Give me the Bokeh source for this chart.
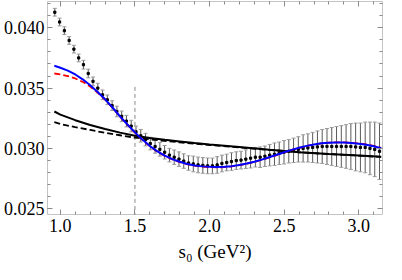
from bokeh.plotting import figure
from bokeh.models import (ColumnDataSource, Whisker, TeeHead, LinearAxis, SingleIntervalTicker,
                          PrintfTickFormatter, CustomJSTickFormatter)
from bokeh.embed import file_html
from bokeh.resources import INLINE

# ---- data ----
S0_POINTS = [0.963, 0.995, 1.027, 1.059, 1.091, 1.123, 1.155, 1.187, 1.219, 1.251, 1.283, 1.315,
             1.347, 1.379, 1.411, 1.443, 1.475, 1.507, 1.539, 1.571, 1.603, 1.635, 1.667, 1.699,
             1.731, 1.763, 1.795, 1.827, 1.859, 1.891, 1.923, 1.955, 1.987, 2.019, 2.051, 2.083,
             2.115, 2.147, 2.179, 2.211, 2.243, 2.275, 2.307, 2.339, 2.371, 2.403, 2.435, 2.467,
             2.499, 2.531, 2.563, 2.595, 2.627, 2.659, 2.691, 2.723, 2.755, 2.787, 2.819, 2.851,
             2.883, 2.915, 2.947, 2.979, 3.011, 3.043, 3.075, 3.107, 3.139]
VAL_POINTS = [0.04129, 0.04048, 0.03976, 0.03895, 0.03823, 0.03750, 0.03694, 0.03621, 0.03556,
              0.03500, 0.03444, 0.03403, 0.03355, 0.03306, 0.03266, 0.03226, 0.03185, 0.03137,
              0.03105, 0.03073, 0.03040, 0.03016, 0.02992, 0.02968, 0.02944, 0.02927, 0.02911,
              0.02895, 0.02879, 0.02871, 0.02863, 0.02859, 0.02855, 0.02855, 0.02863, 0.02875,
              0.02883, 0.02891, 0.02899, 0.02903, 0.02911, 0.02919, 0.02927, 0.02927, 0.02935,
              0.02944, 0.02952, 0.02960, 0.02968, 0.02976, 0.02984, 0.02992, 0.03000, 0.03004,
              0.03008, 0.03012, 0.03016, 0.03016, 0.03016, 0.03016, 0.03016, 0.03016, 0.03016,
              0.03012, 0.03008, 0.03008, 0.03000, 0.02992, 0.02976]
ERR_POINTS = [0.00032, 0.00032, 0.00032, 0.00032, 0.00032, 0.00032, 0.00036, 0.00036, 0.00036,
              0.00040, 0.00040, 0.00040, 0.00040, 0.00044, 0.00044, 0.00048, 0.00048, 0.00048,
              0.00052, 0.00052, 0.00052, 0.00056, 0.00056, 0.00056, 0.00056, 0.00060, 0.00060,
              0.00060, 0.00060, 0.00065, 0.00065, 0.00065, 0.00065, 0.00065, 0.00069, 0.00069,
              0.00069, 0.00073, 0.00073, 0.00073, 0.00077, 0.00081, 0.00081, 0.00085, 0.00085,
              0.00089, 0.00093, 0.00093, 0.00097, 0.00097, 0.00101, 0.00105, 0.00113, 0.00117,
              0.00125, 0.00133, 0.00141, 0.00149, 0.00157, 0.00165, 0.00173, 0.00181, 0.00190,
              0.00198, 0.00202, 0.00210, 0.00218, 0.00226, 0.00234]

S0_FIT = [0.96, 1.0, 1.05, 1.1, 1.15, 1.2, 1.25, 1.3, 1.35, 1.4, 1.45, 1.5, 1.55, 1.6, 1.65, 1.7,
          1.75, 1.8, 1.85, 1.9, 1.95, 2.0, 2.05, 2.1, 2.15, 2.2, 2.25, 2.3, 2.35, 2.4, 2.45, 2.5,
          2.55, 2.6, 2.65, 2.7, 2.75, 2.8, 2.85, 2.9, 2.95, 3.0, 3.05, 3.1, 3.15]
BLUE_FIT = [0.03685, 0.03669, 0.03645, 0.03613, 0.03573, 0.03524, 0.03468, 0.03407, 0.03339,
            0.03266, 0.03198, 0.03133, 0.03073, 0.03020, 0.02975, 0.02940, 0.02911, 0.02889,
            0.02871, 0.02859, 0.02851, 0.02847, 0.02845, 0.02847, 0.02853, 0.02863, 0.02875,
            0.02889, 0.02907, 0.02927, 0.02947, 0.02968, 0.02988, 0.03006, 0.03021, 0.03033,
            0.03042, 0.03047, 0.03049, 0.03048, 0.03045, 0.03039, 0.03030, 0.03018, 0.03002]
RED_FIT = [0.03621, 0.03614, 0.03600, 0.03580, 0.03552, 0.03513, 0.03463, 0.03404, 0.03337,
           0.03264, 0.03196, 0.03131, 0.03071, 0.03018, 0.02973, 0.02938, 0.02909, 0.02887,
           0.02869, 0.02857, 0.02849, 0.02845, 0.02843, 0.02845, 0.02851, 0.02861, 0.02873,
           0.02887, 0.02905, 0.02925, 0.02945, 0.02966, 0.02987, 0.03005, 0.03020, 0.03033,
           0.03042, 0.03048, 0.03050, 0.03050, 0.03047, 0.03041, 0.03033, 0.03021, 0.03005]

S0_BLACK = [0.96, 1.0, 1.1, 1.2, 1.3, 1.4, 1.5, 1.6, 1.7, 1.8, 1.9, 2.0, 2.2, 2.4, 2.6, 2.8, 3.0, 3.15]
BLACK_SOLID = [0.03306, 0.03280, 0.03234, 0.03194, 0.03161, 0.03131, 0.03105, 0.03087, 0.03071,
               0.03058, 0.03045, 0.03033, 0.03011, 0.02989, 0.02969, 0.02954, 0.02941, 0.02930]
BLACK_DASHED = [0.03218, 0.03202, 0.03177, 0.03153, 0.03129, 0.03109, 0.03089, 0.03075, 0.03062,
                0.03050, 0.03039, 0.03028, 0.03008, 0.02988, 0.02968, 0.02953, 0.02940, 0.02929]

VLINE_X = 1.5
VLINE_TOP = 0.0351

X_MIN, X_MAX = 0.914, 3.159
Y_MIN, Y_MAX = 0.02452, 0.04218

X_TITLE = "s\u2080 (GeV\u00b2)"

FONT = "Liberation Serif"

p = figure(width=386, height=264, x_range=(X_MIN, X_MAX), y_range=(Y_MIN, Y_MAX),
           output_backend="svg", toolbar_location=None, title=None,
           min_border_left=44, min_border_right=4, min_border_top=1, min_border_bottom=46)
p.grid.visible = False
p.outline_line_color = "#c4c4c4"
p.outline_line_width = 1
p.xaxis.visible = False
p.yaxis.visible = False

def style_axis(ax, labels):
    ax.axis_line_color = None
    ax.major_tick_in = 5
    ax.major_tick_out = 0
    ax.minor_tick_in = 3
    ax.minor_tick_out = 0
    ax.major_tick_line_color = "#8a8a8a"
    ax.minor_tick_line_color = "#8a8a8a"
    if labels:
        ax.major_label_text_font = FONT
        ax.major_label_text_font_size = "18px"
        ax.major_label_text_color = "black"
        ax.major_label_standoff = 4
    else:
        ax.formatter = CustomJSTickFormatter(code="return ''")
        ax.major_label_standoff = 0

bottom = LinearAxis(ticker=SingleIntervalTicker(interval=0.5, num_minor_ticks=5),
                    formatter=PrintfTickFormatter(format="%.1f"))
style_axis(bottom, True)
bottom.axis_label = X_TITLE
bottom.axis_label_text_font = FONT
bottom.axis_label_text_font_size = "19px"
bottom.axis_label_text_font_style = "normal"
bottom.axis_label_text_color = "black"
bottom.axis_label_standoff = 6
top = LinearAxis(ticker=SingleIntervalTicker(interval=0.5, num_minor_ticks=5))
style_axis(top, False)
left = LinearAxis(ticker=SingleIntervalTicker(interval=0.005, num_minor_ticks=5),
                  formatter=PrintfTickFormatter(format="%.3f"))
style_axis(left, True)
left.major_label_standoff = 3
right = LinearAxis(ticker=SingleIntervalTicker(interval=0.005, num_minor_ticks=5))
style_axis(right, False)
p.add_layout(bottom, "below")
p.add_layout(top, "above")
p.add_layout(left, "left")
p.add_layout(right, "right")

# error bars
upper = [v + e for v, e in zip(VAL_POINTS, ERR_POINTS)]
lower = [v - e for v, e in zip(VAL_POINTS, ERR_POINTS)]
src = ColumnDataSource(dict(x=S0_POINTS, y=VAL_POINTS, upper=upper, lower=lower))
wh = Whisker(base="x", upper="upper", lower="lower", source=src,
             line_color="#5a5a5a", line_width=1, level="underlay",
             upper_head=TeeHead(size=4, line_color="#9a9a9a", line_width=1),
             lower_head=TeeHead(size=4, line_color="#9a9a9a", line_width=1))
p.add_layout(wh)
p.scatter("x", "y", source=src, marker="square", size=2.2, color="black")

# vertical dashed line
p.segment(x0=[VLINE_X], y0=[VLINE_TOP], x1=[VLINE_X], y1=[Y_MIN], line_color="#8a8a8a",
          line_width=1, line_dash="4 3")

# curves
p.line(S0_BLACK, BLACK_DASHED, line_color="black", line_width=1.8, line_dash="6 3")
p.line(S0_BLACK, BLACK_SOLID, line_color="black", line_width=2)
p.line(S0_FIT, RED_FIT, line_color="#ff0000", line_width=1.8, line_dash="6 3")
p.line(S0_FIT, BLUE_FIT, line_color="#0000ff", line_width=2)

open("out.html", "w").write(file_html(p, INLINE))
